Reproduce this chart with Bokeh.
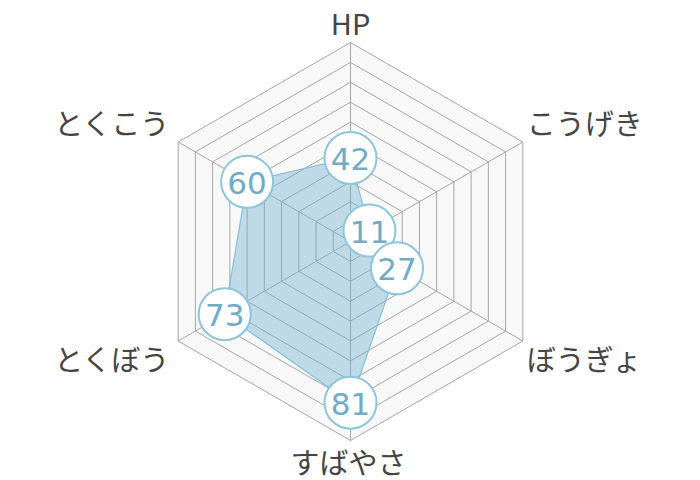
import numpy as np
from bokeh.plotting import figure
from bokeh.models import Range1d, ColumnDataSource
from bokeh.core.properties import value
from bokeh.embed import file_html
from bokeh.resources import INLINE

# ---- data ----
categories = ["HP", "こうげき", "ぼうぎょ", "すばやさ", "とくぼう", "とくこう"]
values = [42, 11, 27, 81, 73, 60]
max_value = 100
ring_levels = [10, 20, 30, 40, 50, 60, 70, 80, 90, 100]

# ---- geometry ----
W, H = 700, 480
PX_PER_UNIT = 1.99
CX, CY = 350, 241  # center in figure pixels

n = len(categories)
angles = np.pi / 2 - np.arange(n) * 2 * np.pi / n  # clockwise from top

x0 = -CX / PX_PER_UNIT
x1 = (W - CX) / PX_PER_UNIT
y1 = CY / PX_PER_UNIT
y0 = -(H - CY) / PX_PER_UNIT

p = figure(width=W, height=H, output_backend="svg", toolbar_location=None,
           x_range=Range1d(x0, x1), y_range=Range1d(y0, y1),
           min_border=0, border_fill_color="white", background_fill_color="white")
p.axis.visible = False
p.grid.visible = False
p.outline_line_color = None

cosA = np.cos(angles)
sinA = np.sin(angles)

# background hexagon
p.patch(list(max_value * cosA), list(max_value * sinA),
        fill_color="#f8f8f8", line_color=None)

# rings
for lv in ring_levels:
    xs = list(lv * cosA) + [lv * cosA[0]]
    ys = list(lv * sinA) + [lv * sinA[0]]
    p.line(xs, ys, line_color="#a6a6a6", line_width=1)

# spokes
for i in range(n):
    p.line([0, max_value * cosA[i]], [0, max_value * sinA[i]],
           line_color="#a6a6a6", line_width=1)

# data polygon
vals = np.array(values, dtype=float)
dx = vals * cosA
dy = vals * sinA
p.patch(list(dx), list(dy), fill_color="#6fb0cf", fill_alpha=0.42,
        line_color="#86bfd8", line_width=1.2)

# value bubbles
src = ColumnDataSource(dict(x=dx, y=dy, t=[str(v) for v in values]))
p.scatter("x", "y", source=src, size=52, marker="circle",
          fill_color="white", line_color="#8cc6dd", line_width=2)
p.text("x", "y", text="t", source=src, text_align="center", text_baseline="middle",
       text_font=value("DejaVu Sans"), text_font_size="31px",
       text_color="#70abc8", y_offset=1)

# category labels (offset from outer vertices)
vx = max_value * cosA
vy = max_value * sinA
off_x = np.array([0, 4, 4, -2, -8, -8]) / PX_PER_UNIT
off_y = np.array([20.5, 20, -17, -20, -17, 20]) / PX_PER_UNIT
aligns = ["center", "left", "left", "center", "right", "right"]
lsrc = ColumnDataSource(dict(x=vx + off_x, y=vy + off_y, t=categories, a=aligns))
p.text("x", "y", text="t", source=lsrc, text_align="a", text_baseline="middle",
       text_font=value("Noto Sans CJK JP"), text_font_size="29px",
       text_color="#444444")

open("out.html", "w").write(file_html(p, INLINE))
